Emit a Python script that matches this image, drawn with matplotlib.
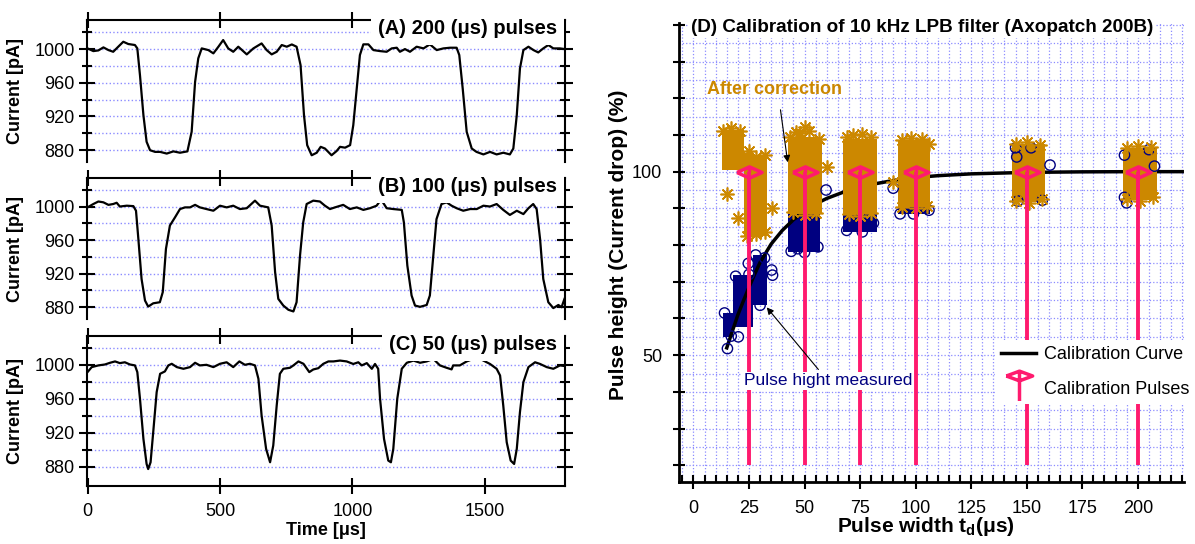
import numpy as np
import matplotlib
matplotlib.use("Agg")
import matplotlib.pyplot as plt
from matplotlib.path import Path
from matplotlib.lines import Line2D
from matplotlib.ticker import MultipleLocator, FixedLocator, FuncFormatter

plt.rcParams['font.family'] = ['Liberation Sans', 'DejaVu Sans']
plt.rcParams['mathtext.fontset'] = 'custom'
plt.rcParams['mathtext.rm'] = 'Liberation Sans'
plt.rcParams['mathtext.bf'] = 'Liberation Sans:bold'

GRID = '#8c8cff'
PINK = '#ff1a6e'
GOLD = '#cc8800'
NAVY = '#000080'

# ---- current traces: time (us), current (pA)
tA = [0, 22, 41, 60, 79, 97, 116, 135, 154, 179, 188, 198, 211, 223, 236, 255, 274, 299, 324, 349,
      377, 393, 406, 418, 431, 456, 475, 494, 512, 531, 550, 569, 601, 626, 657, 676, 695, 714, 733, 752,
      771, 789, 804, 817, 829, 846, 865, 880, 896, 921, 940, 953, 972, 991, 1003, 1016, 1028, 1041, 1060, 1079,
      1104, 1129, 1148, 1167, 1179, 1198, 1217, 1242, 1268, 1292, 1318, 1343, 1368, 1393, 1403, 1416, 1431, 1450, 1468, 1494,
      1519, 1544, 1569, 1594, 1607, 1620, 1632, 1645, 1664, 1683, 1701, 1720, 1739, 1758, 1783, 1800]
iA = [1000.8, 997.6, 998.4, 1002, 998.8, 996.8, 1002.8, 1008.7, 1006, 1004.8, 1000.8, 969, 921.6, 890, 880, 878, 878, 876, 878.6, 877,
      878.6, 901.8, 961, 989, 1000.8, 998.8, 994.9, 1002.8, 1010.7, 1000.8, 996.8, 1002.8, 993.7, 1000.8, 1006.7, 998.8, 993.7, 996.8, 1004.8, 1002.8,
      1005.5, 1002.8, 981, 921.6, 886, 874, 877, 884, 882, 874, 879, 884, 883, 886, 909.7, 953, 992.9, 1005.6, 1005.6, 998.8,
      997.6, 996.8, 1000.8, 1001.6, 996.8, 1000, 996.8, 1002.8, 1000.8, 1005.6, 998.8, 1000.8, 1001.6, 1001.6, 992.9, 953, 901.8, 882, 878, 875,
      878, 875, 877, 875, 882, 921.6, 977, 998.8, 1002.8, 998.8, 996, 1000.8, 1004.8, 1000.8, 1000.8, 1000]

tB = [0, 22, 41, 60, 79, 97, 110, 122, 148, 173, 183, 192, 204, 217, 229, 248, 273, 284, 296, 311,
      330, 349, 368, 387, 406, 424, 449, 475, 500, 525, 550, 575, 601, 632, 651, 682, 695, 708, 720, 739,
      758, 777, 789, 802, 814, 827, 852, 877, 896, 915, 934, 965, 990, 1016, 1041, 1066, 1091, 1108, 1129, 1154,
      1186, 1194, 1207, 1223, 1236, 1255, 1280, 1292, 1305, 1317, 1336, 1355, 1374, 1393, 1418, 1444, 1469, 1494, 1519, 1544,
      1569, 1594, 1620, 1645, 1664, 1682, 1695, 1708, 1720, 1739, 1758, 1777, 1789, 1800]
iB = [999, 1003, 1006, 1005, 1002, 1003, 1004.5, 1000, 1001, 1000.5, 995, 961, 913.7, 888, 880.8, 884.7, 886, 898, 949.5, 977.4,
      987, 997, 999, 999, 1002, 999, 997, 995, 1001, 999, 1001, 997, 998, 1007, 1001, 999, 977.4, 921.7, 890, 882,
      877, 875, 886, 941.6, 981, 1003, 1007, 1006, 1001, 997, 999, 1002, 997, 999, 996, 998, 1001, 1008.3, 998, 997,
      996, 981, 929.7, 894, 882, 880.5, 882.7, 894, 941.6, 985, 1003, 1005, 1001, 998, 995, 997, 997, 1001, 1000, 1003,
      996, 990, 995, 991, 998, 1003, 997, 961, 913.7, 886, 879, 882.7, 880, 890]

tC = [0, 16, 41, 66, 85, 104, 122, 141, 160, 179, 188, 198, 211, 223, 229, 238, 248, 261, 274, 292,
      305, 318, 337, 362, 387, 406, 424, 449, 475, 500, 525, 550, 573, 594, 613, 632, 645, 657, 674, 689,
      701, 714, 726, 739, 764, 777, 796, 815, 837, 852, 871, 890, 909, 928, 953, 978, 1003, 1022, 1035, 1054,
      1073, 1085, 1097, 1104, 1119, 1135, 1145, 1154, 1169, 1186, 1205, 1230, 1255, 1280, 1305, 1330, 1355, 1374, 1380, 1405,
      1431, 1456, 1469, 1494, 1519, 1544, 1557, 1569, 1582, 1597, 1610, 1620, 1632, 1645, 1664, 1689, 1708, 1733, 1758, 1783, 1800]
iC = [991.4, 997.3, 999.3, 1000.4, 1002.4, 1004, 1002, 1003, 1000.4, 999.3, 991.4, 960, 912.6, 883, 877, 885, 920.5, 967.8, 989.4, 992.2,
      999.3, 1001.2, 997.3, 995.3, 997.3, 1002.4, 999.3, 1000, 997.3, 1001.2, 1003, 997.3, 1004, 1000, 1001.2, 999.3, 983.5, 940.2, 900.8, 885,
      904.8, 952, 989.4, 995.3, 996.5, 999.3, 1004, 1001.2, 991.4, 994.5, 996, 1001.2, 1004, 1004, 1005, 1004, 1001, 1003, 999.3, 1002,
      995.3, 1001, 995.3, 960, 912.6, 887, 885, 900.8, 960, 995.3, 1002.4, 1005, 1002.4, 1004, 1007, 999.3, 996.5, 994.6, 999.3, 999.3,
      1004, 1007, 1009, 1005, 1001, 995.3, 987.4, 952, 908.7, 887, 883, 900.8, 944.2, 979.6, 997.3, 1003, 1001, 997.3, 995.3, 999.3, 998.6]

panel_titles = ['(A) 200 (μs) pulses', '(B) 100 (μs) pulses', '(C) 50 (μs) pulses']

# ---- calibration panel
pulse_widths = [25, 50, 75, 100, 150, 200]
pulse_height = 100
pulse_base = 20

cal_x = [15, 17.5, 20, 22.5, 25, 27.5, 30, 35, 40, 45, 50, 55, 60, 70, 80, 90, 100, 110, 125, 150, 175, 200, 220]
cal_y = [52, 56.5, 61, 64.8, 68.5, 72, 75.3, 80.3, 84, 86.9, 89.3, 91.2, 92.7, 95, 96.5, 97.6, 98.4, 98.9, 99.4, 99.8, 99.95, 100, 100]

# dense clouds of points, read as blocks (left, right, low, high)
meas_left = [13.2, 18.0, 27.0, 42.7, 67.5, 92.2]
meas_right = [18.0, 27.0, 33.0, 57.0, 82.5, 106.5]
meas_low = [55.0, 57.7, 63.6, 78.2, 83.6, 88.6]
meas_high = [61.4, 71.8, 77.3, 90.5, 91.4, 92.0]

corr_left = [12.7, 22.8, 42.7, 67.5, 92.2, 143.4, 193.4]
corr_right = [22.8, 33.0, 57.7, 82.5, 106.5, 158.2, 208.6]
corr_low = [100.5, 82.5, 88.5, 88.6, 90.5, 91.7, 92.3]
corr_high = [111.4, 104.5, 109.5, 109.0, 108.5, 107.5, 106.5]

# individual points at the edges of the clouds
meas_pt_x = [15.3, 20.2, 24.7, 30, 35.2, 35.6, 14, 17, 19, 25, 28, 32, 59.7, 44, 50, 56, 47, 54,
             69, 76, 81, 89.9, 93, 99, 106, 145, 145.5, 146, 152, 157, 160.5, 194, 194, 195, 205, 207.5]
meas_pt_y = [51.8, 55, 75, 63.6, 73.2, 71.8, 61.5, 55.2, 71.5, 72, 77.3, 76.5, 95, 78.3, 78, 79.5, 79, 80,
             84, 83.6, 86, 95.5, 88.5, 88.5, 89.5, 106.5, 104, 92, 106.5, 92.2, 101.8, 104.5, 93, 91.5, 106, 101.5]

corr_pt_x = [13.5, 17, 21, 15, 20.2, 35.2, 25.2, 24, 28, 32, 24, 28, 32, 43.5, 48, 50, 52, 56.5, 46, 60,
             45, 50, 55, 69, 72, 76, 80, 70, 75, 80, 89.9, 94, 98, 103, 106, 94, 100, 105,
             145, 150, 156, 145, 151, 157, 195, 200, 206, 195, 201, 207]
corr_pt_y = [111, 111.8, 111.2, 94, 87.3, 90, 105.7, 104.3, 104, 104.5, 82.5, 83, 83.5, 109.5, 110.5, 112.3, 111, 109, 110.8, 101.4,
             89, 88.3, 88.8, 109.5, 110, 110.3, 109.5, 88.5, 87.8, 88.8, 97.3, 108.5, 109.3, 109, 107.5, 90.3, 90, 90.6,
             107.5, 108, 107.3, 92, 91.5, 92.5, 106.5, 107, 106.8, 92.5, 92, 93]

W, H = 1195, 544
fig = plt.figure(figsize=(W / 100, H / 100), dpi=100)


def px_axes(l, t, r, b):
    return fig.add_axes([l / W, 1 - b / H, (r - l) / W, (b - t) / H])


# ---------------- left panels
left_boxes = [(86.5, 20, 565, 162), (86.5, 178, 565, 319), (86.5, 336, 565, 486)]
ylims = [(866, 1034.5), (866, 1034), (857, 1034)]
traces = [(tA, iA), (tB, iB), (tC, iC)]

for k in range(3):
    ax = px_axes(*left_boxes[k])
    t, i = traces[k]
    ax.plot(t, i, color='k', lw=1.6, zorder=2)
    ax.set_xlim(-3.8, 1802)
    ax.set_ylim(*ylims[k])
    ax.set_axisbelow(True)
    ax.xaxis.set_major_locator(FixedLocator([0, 500, 1000, 1500]))
    ax.yaxis.set_major_locator(FixedLocator([880, 920, 960, 1000]))
    ax.yaxis.set_minor_locator(FixedLocator([900, 940, 980, 1020]))
    ax.tick_params(which='major', direction='inout', length=12, width=1.5, top=True, right=True,
                   labelsize=13, pad=2.5)
    ax.tick_params(which='minor', direction='inout', length=7, width=1.5, right=True)
    ax.grid(axis='y', which='both', color=GRID, ls=':', lw=1)
    for s in ax.spines.values():
        s.set_linewidth(1.5)
    if k < 2:
        ax.spines['bottom'].set_visible(False)
        ax.tick_params(bottom=False, labelbottom=False)
    else:
        ax.tick_params(axis='x', pad=6)
        ax.set_xlabel('Time [μs]', fontsize=13, fontweight='bold')
        ax.xaxis.set_label_coords(0.5, -0.24)
    ax.set_ylabel('Current [pA]', fontsize=13, fontweight='bold')
    ax.yaxis.set_label_coords(-0.131, 0.5)
    ax.text(0.983, 1 - 8.5 / (left_boxes[k][3] - left_boxes[k][1]), panel_titles[k],
            transform=ax.transAxes, ha='right', va='center', fontsize=14.5, fontweight='bold',
            bbox=dict(boxstyle='square,pad=0.33', fc='white', ec='none'), zorder=5)

# ---------------- calibration panel
axD = px_axes(679, 23, 1184, 482)
axD.set_xlim(-6.5, 220.8)
axD.set_ylim(15.45, 140.5)
axD.set_axisbelow(True)
axD.spines['top'].set_visible(False)
axD.spines['right'].set_visible(False)
for s in ('left', 'bottom'):
    axD.spines[s].set_linewidth(2)

axD.xaxis.set_major_locator(MultipleLocator(25))
axD.xaxis.set_minor_locator(MultipleLocator(5))
axD.yaxis.set_major_locator(MultipleLocator(10))
axD.yaxis.set_minor_locator(MultipleLocator(5))
axD.yaxis.set_major_formatter(FuncFormatter(lambda v, p: f'{v:.0f}' if round(v) in (50, 100) else ''))
axD.tick_params(axis='x', which='major', direction='inout', length=10, width=1.5, labelsize=13, pad=8)
axD.tick_params(axis='x', which='minor', direction='in', length=5, width=1.5)
axD.tick_params(axis='y', which='major', direction='inout', length=8, width=1.5, labelsize=13, pad=8)
axD.tick_params(axis='y', which='minor', length=0)
axD.grid(which='both', color=GRID, ls=':', lw=0.9)

ml = np.array(meas_left)
mr = np.array(meas_right)
axD.bar(ml, np.array(meas_high) - np.array(meas_low), bottom=meas_low, width=mr - ml,
        align='edge', color=NAVY, lw=0, zorder=2)
axD.plot(cal_x, cal_y, color='k', lw=2.5, zorder=3)
cl = np.array(corr_left)
cr = np.array(corr_right)
axD.bar(cl, np.array(corr_high) - np.array(corr_low), bottom=corr_low, width=cr - cl,
        align='edge', color=GOLD, lw=0, zorder=4)
axD.scatter(meas_pt_x, meas_pt_y, s=55, facecolors='none', edgecolors=NAVY, lw=1, zorder=4.2)
axD.plot(corr_pt_x, corr_pt_y, ls='none', marker=(8, 2, 0), ms=10, mec=GOLD, mew=1.2, zorder=4.4)

axD.vlines(pulse_widths, pulse_base, pulse_height, color=PINK, lw=2.8, zorder=5)
M, L = Path.MOVETO, Path.LINETO
diamond = Path([(-1, 0), (0, 0.45), (1, 0), (0, -0.45), (-1, 0), (0, 0.45), (0, 0)],
               [M, L, L, L, L, M, L])
axD.plot(pulse_widths, [pulse_height] * len(pulse_widths), ls='none', marker=diamond, ms=18,
         mfc='none', mec=PINK, mew=2.5, zorder=6)

axD.text(0.024, 0.99, '(D) Calibration of 10 kHz LPB filter (Axopatch 200B)', transform=axD.transAxes,
         ha='left', va='center', fontsize=13.6, fontweight='bold',
         bbox=dict(boxstyle='square,pad=0.1', fc='white', ec='none'), zorder=8)
axD.text(6.1, 122.3, 'After correction', color=GOLD, fontsize=13, fontweight='bold', va='center', zorder=8)
axD.annotate('', xy=(42.6, 101.8), xytext=(39, 117.6),
             arrowprops=dict(arrowstyle='-|>', color='k', lw=0.8, mutation_scale=10), zorder=8)
axD.annotate('Pulse hight measured', xy=(32.2, 63.6), xytext=(60.5, 43), ha='center', va='center',
             color=NAVY, fontsize=12.5, bbox=dict(boxstyle='square,pad=0.1', fc='white', ec='none'),
             arrowprops=dict(arrowstyle='-|>', color='k', lw=0.8, mutation_scale=10), zorder=8)

axD.set_xlabel(r'Pulse width $\mathbf{t_d}$(μs)', fontsize=15, fontweight='bold')
axD.xaxis.set_label_coords(0.489, -0.072)
axD.set_ylabel('Pulse height (Current drop) (%)', fontsize=15, fontweight='bold')
axD.yaxis.set_label_coords(-0.101, 0.516)

leg_path = Path([(-1, 0.95), (0, 1.32), (1, 0.95), (0, 0.58), (-1, 0.95), (0, 1.32), (0, -0.95)],
                [M, L, L, L, L, M, L])
handles = [Line2D([], [], color='k', lw=2.5),
           Line2D([], [], ls='none', marker=leg_path, ms=25, mfc='none', mec=PINK, mew=2.5)]
leg = axD.legend(handles, ['Calibration Curve', 'Calibration Pulses'], loc='upper left',
                 bbox_to_anchor=(0.626, 0.31), fontsize=13, frameon=True, framealpha=1,
                 edgecolor='none', fancybox=False, handlelength=1.9, labelspacing=1.0,
                 borderpad=0.35, handletextpad=0.45, borderaxespad=0)
leg.set_zorder(9)

fig.savefig('out.png', dpi=100)
